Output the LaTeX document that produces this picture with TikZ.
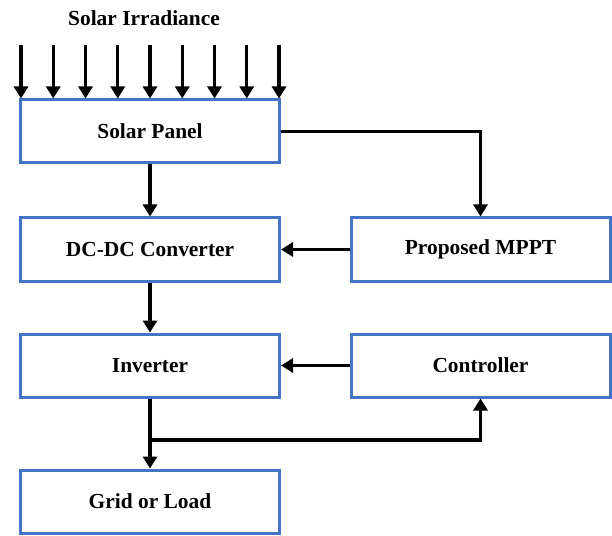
\documentclass[tikz,border=0pt]{standalone}
\usepackage{fontspec}
\setmainfont{Liberation Serif}
\usetikzlibrary{arrows.meta}

\definecolor{boxblue}{HTML}{4472C4}

\tikzset{
    block/.style={draw=boxblue,line width=3bp,rectangle,minimum width=259bp,
        minimum height=63bp,font=\fontsize{21.5}{25}\selectfont\bfseries},
    flow/.style={line width=3.2bp,-{Triangle[width=14bp,length=12bp]}}
}

\begin{document}
    \begin{tikzpicture}[x=1bp,y=-1bp]
        \useasboundingbox (0,0) rectangle (612,536);
        \node[font=\fontsize{21.5}{25}\selectfont\bfseries] (irr) at (144,18) {Solar Irradiance};
        \node[block] (panel) at (150,131.5) {Solar Panel};
        \node[block] (dcdc) at (150,249.5) {DC-DC Converter};
        \node[block] (inv) at (150,365.5) {Inverter};
        \node[block] (grid) at (150,501.5) {Grid or Load};
        \node[block] (mppt) at (480.5,249.5) {Proposed MPPT};
        \node[block] (ctrl) at (480.5,365.5) {Controller};

        % incoming light
        \foreach \i in {0,...,8} {
            \coordinate (ray\i) at ({21+32.25*\i},45);
            \draw[flow] (ray\i) -- (ray\i |- panel.north);
        }

        \draw[flow] (panel) -- (dcdc);
        \draw[flow] (dcdc) -- (inv);
        \draw[flow] (inv) -- (grid);
        \draw[flow] (panel.east) -| (mppt.north);
        \draw[flow] (mppt) -- (dcdc);
        \draw[flow] (ctrl) -- (inv);

        % feedback to the controller
        \coordinate (tap) at (inv.south |- 0,440);
        \draw[flow] (tap) -| (ctrl.south);
    \end{tikzpicture}
\end{document}
